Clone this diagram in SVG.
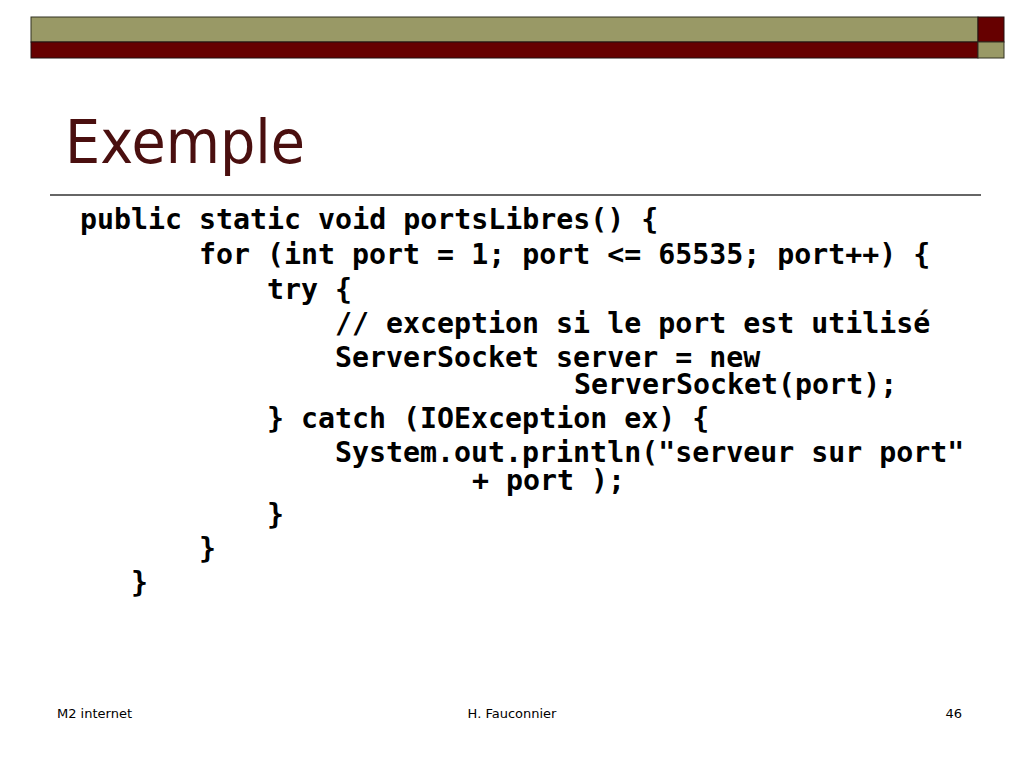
<svg xmlns="http://www.w3.org/2000/svg" width="1024" height="768" viewBox="0 0 1024 768">
  <style>
    .olive { fill: #999966; stroke: #333322; stroke-width: 1; }
    .red { fill: #660000; stroke: #221111; stroke-width: 1; }
    .title { font-family: "Comic Sans MS", "DejaVu Sans", sans-serif; font-size: 60px; fill: #4a0f0f; }
    .code { font-family: "DejaVu Sans Mono", "Liberation Mono", monospace; font-size: 28.25px; font-weight: bold; fill: #000000; }
    .foot { font-family: "Comic Sans MS", "DejaVu Sans", sans-serif; font-size: 13px; fill: #000000; }
  </style>
  <rect width="1024" height="768" fill="#ffffff"/>
  <g id="header-bar">
    <rect class="olive" x="31" y="17" width="947" height="25"/>
    <rect class="red" x="31" y="42" width="947" height="16"/>
    <rect class="red" x="978" y="17" width="26" height="25"/>
    <rect class="olive" x="978" y="42" width="26" height="16"/>
  </g>
  <g id="title">
    <text class="title" x="65" y="163" textLength="240" lengthAdjust="spacingAndGlyphs">Exemple</text>
    <line x1="50" y1="195" x2="981" y2="195" stroke="#333333" stroke-width="1.5"/>
  </g>
  <g id="code">
    <text class="code" x="80" y="229">public static void portsLibres() {</text>
    <text class="code" x="199" y="264">for (int port = 1; port &lt;= 65535; port++) {</text>
    <text class="code" x="267" y="299">try {</text>
    <text class="code" x="335" y="333">// exception si le port est utilisé</text>
    <text class="code" x="335" y="367">ServerSocket server = new</text>
    <text class="code" x="574" y="394">ServerSocket(port);</text>
    <text class="code" x="267" y="428">} catch (IOException ex) {</text>
    <text class="code" x="335" y="462">System.out.println("serveur sur port"</text>
    <text class="code" x="472" y="490">+ port );</text>
    <text class="code" x="267" y="524">}</text>
    <text class="code" x="199" y="558">}</text>
    <text class="code" x="131" y="592">}</text>
  </g>
  <g id="footer">
    <text class="foot" x="57" y="718">M2 internet</text>
    <text class="foot" x="512" y="718" text-anchor="middle">H. Fauconnier</text>
    <text class="foot" x="962" y="718" text-anchor="end">46</text>
  </g>
</svg>
